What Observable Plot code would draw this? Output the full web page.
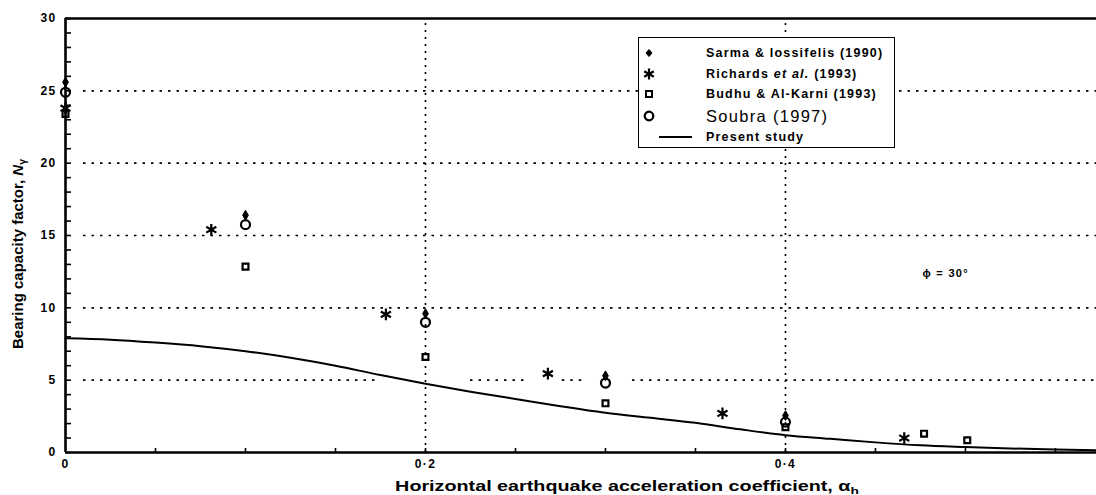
<!DOCTYPE html>
<html><head><meta charset="utf-8">
<script src="https://cdn.jsdelivr.net/npm/d3@7"></script>
<script src="https://cdn.jsdelivr.net/npm/@observablehq/plot@0.6"></script>
<style>
body{margin:0;background:#fff;}
#wrap{position:relative;width:1096px;height:495px;font-family:"Liberation Sans",Arial,sans-serif;color:#000;}
#wrap svg{position:absolute;left:0;top:0;}
.ylab{position:absolute;left:19px;top:254px;transform:translate(-50%,-50%) rotate(-90deg);white-space:nowrap;font-weight:bold;font-size:15px;line-height:1;}
.xlab{position:absolute;left:627px;top:479px;transform:translateX(-50%) scaleX(1.41);white-space:nowrap;font-weight:bold;font-size:14px;line-height:1;}
sub{font-size:70%;vertical-align:-0.3em;}
#legend{position:absolute;left:638px;top:37px;width:255px;height:109px;border:1.5px solid #000;background:#fff;}
.row{position:absolute;left:0;height:20px;width:100%;}
.row svg{position:absolute;left:27px;top:0;}
.row span{position:absolute;left:67px;top:50%;transform:translateY(-50%);white-space:nowrap;font-weight:bold;font-size:12.5px;letter-spacing:1.2px;}
.row span.big{font-weight:normal;font-size:16.5px;letter-spacing:1.3px;}
</style></head><body><div id="wrap"></div>
<script>
// ---- data ----
const sarmaX = [0, 0.1, 0.2, 0.3, 0.4];
const sarmaY = [25.6, 16.4, 9.6, 5.3, 2.55];
const richardsX = [0, 0.081, 0.178, 0.268, 0.365, 0.466];
const richardsY = [23.8, 15.4, 9.55, 5.45, 2.7, 1.0];
const budhuX = [0, 0.1, 0.2, 0.3, 0.4, 0.477, 0.501];
const budhuY = [23.4, 12.85, 6.6, 3.4, 1.75, 1.3, 0.85];
const soubraX = [0, 0.1, 0.2, 0.3, 0.4];
const soubraY = [24.9, 15.75, 9.0, 4.8, 2.1];
const presentX = [0, 0.025, 0.05, 0.075, 0.1, 0.125, 0.15, 0.175, 0.2, 0.225, 0.25, 0.275, 0.3, 0.325, 0.35, 0.375, 0.4, 0.425, 0.45, 0.475, 0.5, 0.525, 0.55, 0.5728];
const presentY = [7.9, 7.8, 7.6, 7.35, 7.0, 6.55, 6.0, 5.35, 4.75, 4.2, 3.7, 3.2, 2.75, 2.4, 2.05, 1.6, 1.2, 0.95, 0.7, 0.5, 0.38, 0.28, 0.2, 0.15];
const seriesNames = ["Sarma & Iossifelis (1990)", "Richards et al. (1993)", "Budhu & Al-Karni (1993)", "Soubra (1997)", "Present study"];
const xMax = 0.5728;
const yMajor = [0, 5, 10, 15, 20, 25, 30];
const yMinor = d3.range(0, 31, 1);
const xMinor = d3.range(0.05, 0.56, 0.05);
const xLabelTicks = [0, 0.2, 0.4];
const xLabelText = ["0", "0·2", "0·4"];
const gridY = [5, 10, 15, 20, 25];
const gridX = [0.2, 0.4];
// dotted line at 5 is broken where points sit
const grid5Segments = [[0.01, 0.172], [0.225, 0.258], [0.276, 0.29], [0.315, xMax]];
const phiLabel = {x: 0.489, y: 12.37, text: "ϕ = 30°"};

// ---- build ----
const pts = (X, Y) => X.map((x, i) => ({x, y: Y[i]}));
const gridH = [];
for (const y of gridY) {
  if (y === 5) grid5Segments.forEach(([a, b]) => gridH.push({y, x1: a, x2: b}));
  else gridH.push({y, x1: 0.01, x2: xMax});
}

const plot = Plot.plot({
  width: 1096, height: 495,
  marginLeft: 65, marginRight: 0, marginTop: 18, marginBottom: 43,
  x: {domain: [0, xMax]},
  y: {domain: [0, 30]},
  style: {fontFamily: '"Liberation Sans", Arial, sans-serif', fontWeight: "bold", fontSize: "12px", letterSpacing: "1.3px", color: "#000", background: "transparent"},
  marks: [
    Plot.ruleY(gridH, {y: "y", x1: "x1", x2: "x2", stroke: "#000", strokeWidth: 1.6, strokeDasharray: "2.5,6"}),
    Plot.ruleX(gridX, {x: d => d, y1: 0, y2: 29.7, stroke: "#000", strokeWidth: 1.6, strokeDasharray: "2,5"}),
    Plot.axisY({ticks: yMinor, tickSize: -6, tickFormat: () => "", strokeWidth: 1.6, label: null}),
    Plot.axisY({ticks: yMajor, tickSize: 0, tickPadding: 9, label: null}),
    Plot.axisX({ticks: xMinor, tickSize: -4, tickFormat: () => "", strokeWidth: 1.6, label: null}),
    Plot.axisX({ticks: xLabelTicks, tickSize: 0, tickPadding: 7, tickFormat: (d) => xLabelText[xLabelTicks.indexOf(d)], label: null}),
    Plot.ruleY([0, 30], {stroke: "#000", strokeWidth: 2.6}),
    Plot.ruleX([0], {stroke: "#000", strokeWidth: 2.6}),
    Plot.line(pts(presentX, presentY), {x: "x", y: "y", curve: "monotone-x", stroke: "#000", strokeWidth: 2}),
    Plot.dot(pts(soubraX, soubraY), {x: "x", y: "y", r: 4.5, stroke: "#000", strokeWidth: 2.2, fill: "none"}),
    Plot.dot(pts(budhuX, budhuY), {x: "x", y: "y", symbol: "square", r: 3.3, stroke: "#000", strokeWidth: 2.2, fill: "none"}),
    Plot.dot(pts(richardsX, richardsY), {x: "x", y: "y", symbol: "asterisk", r: 5.5, stroke: "#000", strokeWidth: 2.2}),
    Plot.dot(pts(sarmaX, sarmaY), {x: "x", y: "y", symbol: "diamond", r: 3, fill: "#000", stroke: "#000", strokeWidth: 1}),
    Plot.text([phiLabel], {x: "x", y: "y", text: "text", fontSize: 11, fontWeight: "bold", fill: "#000"})
  ]
});

const wrap = document.getElementById("wrap");
wrap.appendChild(plot);

const yl = document.createElement("div");
yl.className = "ylab";
yl.innerHTML = "Bearing capacity factor, <i>N</i><sub>γ</sub>";
wrap.appendChild(yl);
const xl = document.createElement("div");
xl.className = "xlab";
xl.innerHTML = "Horizontal earthquake acceleration coefficient, α<sub>h</sub>";
wrap.appendChild(xl);

// legend
const legendSymbols = [
  '<svg width="20" height="20"><path d="M10,6.5L13,10L10,13.5L7,10Z" fill="#000" stroke="#000"/></svg>',
  '<svg width="20" height="20"><g stroke="#000" stroke-width="2.2"><line x1="10" y1="4.5" x2="10" y2="15.5"/><line x1="5.2" y1="7.2" x2="14.8" y2="12.8"/><line x1="5.2" y1="12.8" x2="14.8" y2="7.2"/></g></svg>',
  '<svg width="20" height="20"><rect x="7" y="7" width="6" height="6" fill="none" stroke="#000" stroke-width="2"/></svg>',
  '<svg width="20" height="20"><circle cx="10" cy="10" r="4.3" fill="none" stroke="#000" stroke-width="2.2"/></svg>',
  '<svg width="40" height="20" style="left:20px"><line x1="0" y1="10" x2="33" y2="10" stroke="#000" stroke-width="2"/></svg>'
];
const rowCenters = [15, 36, 56, 78, 99];
const lg = document.createElement("div");
lg.id = "legend";
seriesNames.forEach((name, i) => {
  const r = document.createElement("div");
  r.className = "row";
  r.style.top = (rowCenters[i] - 10) + "px";
  const label = name.replace("et al.", "<i>et al.</i>");
  r.innerHTML = legendSymbols[i] + `<span class="${i === 3 ? "big" : ""}">${label}</span>`;
  lg.appendChild(r);
});
wrap.appendChild(lg);
</script>
</body></html>
